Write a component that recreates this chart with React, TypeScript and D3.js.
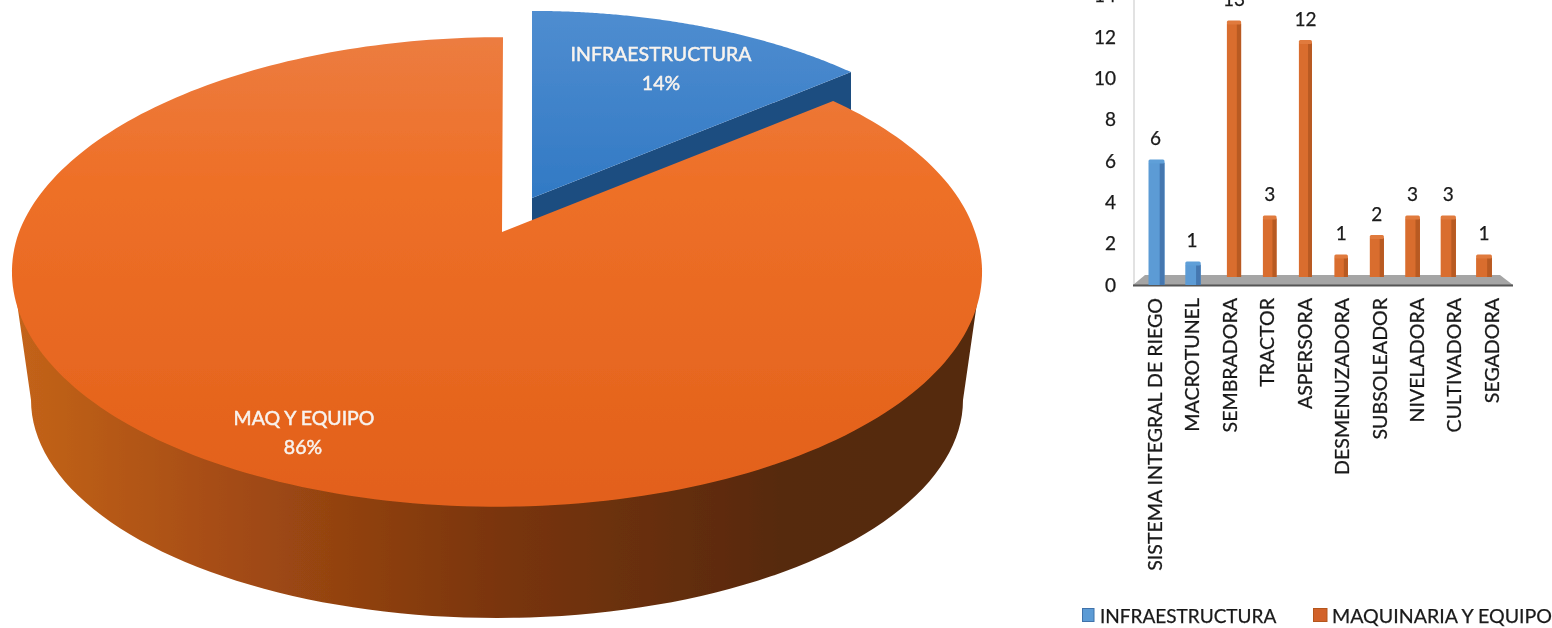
import React from "react";
import * as d3 from "d3";

const pieLabels = ["INFRAESTRUCTURA", "MAQ Y EQUIPO"];
const pieShares = [14, 86];
const categories = ["SISTEMA INTEGRAL DE RIEGO", "MACROTUNEL", "SEMBRADORA", "TRACTOR", "ASPERSORA", "DESMENUZADORA", "SUBSOLEADOR", "NIVELADORA", "CULTIVADORA", "SEGADORA"];
const infraValues = [6, 1];
const maqValues = [13, 3, 12, 1, 2, 3, 3, 1];
const yTicks = [0, 2, 4, 6, 8, 10, 12, 14];
const legendLabels = ["INFRAESTRUCTURA", "MAQUINARIA Y EQUIPO"];

const FONT = "Lato, 'Open Sans', sans-serif";
const INK = "#1a1a1a";

// perspective disc
const K = 0.17, C = 478, A = 228;
const project = (ang: number, ox: number, oy: number, s: number): [number, number] => {
  const u = Math.sin(ang), v = Math.cos(ang), w = 1 + K * v;
  return [ox + (s * C * u) / w, oy - (s * A * v) / w];
};
const wedge = (a0: number, a1: number, ox: number, oy: number, s: number) => {
  const n = 160;
  const pts: [number, number][] = [[ox, oy]];
  d3.range(n + 1).forEach((i) => pts.push(project(a0 + ((a1 - a0) * i) / n, ox, oy, s)));
  return d3.line()(pts) + "Z";
};

export default function App() {
  const arcs = d3.pie<number>().sort(null)(pieShares);
  const blue = arcs[0], orange = arcs[1];
  const blueOx = 532, blueOy = 198, blueS = 0.96;
  const orangeOx = 499, orangeOy = 232;
  const blueEnd = project(blue.endAngle, blueOx, blueOy, blueS);
  const blueStart = [blueOx, blueOy];
  const blueDepth = 40;

  // Side of the orange disc: lower rim as ellipse
  const rimCx = 497, rimCy = 400, rimRx = 466, rimRy = 218;
  const rim = d3.range(0, 181, 2).map((deg) => {
    const t = (deg * Math.PI) / 180;
    return [rimCx + rimRx * Math.cos(t), rimCy + rimRy * Math.sin(t)] as [number, number];
  });
  const sidePath = d3.line()([[982, 268], ...rim, [12, 268]]) + "Z";

  // Orange top: apex shifted toward the notch, disc itself centred at 497
  const topPts: [number, number][] = [];
  d3.range(241).forEach((i) => {
    const a = orange.startAngle + ((orange.endAngle - orange.startAngle) * i) / 240;
    const p = project(a, orangeOx, orangeOy, 1);
    const fade = Math.max(0, Math.cos(a));
    topPts.push([p[0] - 2 + 6 * fade, p[1]]);
  });
  const orangeTop = d3.line()([[502, orangeOy], ...topPts]) + "Z";

  // Bar chart scales
  const tickY = d3.scaleLinear().domain([0, 14]).range([285, -4.4]);
  const frontY = d3.scaleLinear().domain([0, 1]).range([285, 264.6]);
  const backY = d3.scaleLinear().domain([0, 1]).range([277, 257.5]);
  const frontX = d3.scaleLinear().domain([0, 1]).range([1156.5, 1193]);
  const backX = d3.scaleLinear().domain([2, 9]).range([1234, 1484]);
  const labelX = d3.scalePoint<number>().domain(d3.range(categories.length)).range([1155, 1492]);
  const widthAt = (x: number) => 13 + Math.abs(x - 1310) / 62;
  const cap = 3;

  const bar = (cx: number, w: number, base: number, top: number, cFront: string, cSide: string, cCap: string, key: string) => {
    const left = cx - w / 2, right = cx + w / 2, sw = w * 0.3;
    return (
      <g key={key}>
        <rect x={left} y={top} width={w} height={base - top} fill={cFront} />
        <rect x={right - sw} y={top} width={sw} height={base - top} fill={cSide} />
        <rect x={left} y={top - cap} width={w} height={cap + 1} rx={1.5} fill={cCap} />
      </g>
    );
  };

  const inkText = { fill: INK, stroke: INK, strokeWidth: 0.25 };

  return (
    <svg width={1552} height={628} viewBox="0 0 1552 628" style={{ position: "absolute", left: 0, top: 0, display: "block", background: "#fff" }} fontFamily={FONT}>
      <defs>
        <linearGradient id="orangeTop" x1="0" y1="37" x2="0" y2="507" gradientUnits="userSpaceOnUse">
          <stop offset="0" stopColor="#ec7c40" />
          <stop offset="0.3" stopColor="#ee7028" />
          <stop offset="1" stopColor="#e2601a" />
        </linearGradient>
        <linearGradient id="orangeSide" x1="12" y1="0" x2="982" y2="0" gradientUnits="userSpaceOnUse">
          <stop offset="0" stopColor="#c4641a" />
          <stop offset="0.2" stopColor="#a84e14" />
          <stop offset="0.5" stopColor="#7a350d" />
          <stop offset="0.8" stopColor="#56290c" />
          <stop offset="1" stopColor="#54290d" />
        </linearGradient>
        <linearGradient id="blueTop" x1="0" y1="12" x2="0" y2="200" gradientUnits="userSpaceOnUse">
          <stop offset="0" stopColor="#4f8dd0" />
          <stop offset="1" stopColor="#3179c4" />
        </linearGradient>
        <filter id="soft" x="-2%" y="-2%" width="104%" height="104%">
          <feGaussianBlur stdDeviation="0.55" />
        </filter>
      </defs>
      <g filter="url(#soft)">
        {/* Pie */}
        <polygon
          points={[
            [blueStart[0], blueStart[1]],
            [blueEnd[0], blueEnd[1]],
            [blueEnd[0], blueEnd[1] + blueDepth],
            [blueStart[0], blueStart[1] + blueDepth],
          ].join(" ")}
          fill="#1f4d80"
        />
        <path d={wedge(blue.startAngle, blue.endAngle, blueOx, blueOy, blueS)} fill="url(#blueTop)" />
        <path d={sidePath} fill="url(#orangeSide)" />
        <path d={orangeTop} fill="url(#orangeTop)" />
        <g fill="#f8f3ee" stroke="#f8f3ee" strokeWidth={0.5} textAnchor="middle" fontSize={19.5}>
          <text x={661} y={61}>{pieLabels[0]}</text>
          <text x={661} y={90}>{pieShares[0]}%</text>
          <text x={304} y={425}>{pieLabels[1]}</text>
          <text x={303} y={454}>{pieShares[1]}%</text>
        </g>

        {/* Bar chart */}
        <line x1={1134} x2={1134} y1={0} y2={285} stroke="#d9d9d9" strokeWidth={1.5} />
        <polygon points="1145,275 1500,275 1513,285 1133,285" fill="#a5a5a5" />
        <line x1={1133} x2={1513} y1={285.5} y2={285.5} stroke="#555" strokeWidth={2} />
        {yTicks.map((t) => (
          <text key={t} x={1116} y={tickY(t)} dy="0.35em" textAnchor="end" fontSize={19} {...inkText}>{t}</text>
        ))}
        {maqValues.map((v, i) => {
          const idx = i + infraValues.length;
          const cx = backX(idx), top = backY(v);
          return (
            <g key={categories[idx]}>
              {bar(cx, widthAt(cx), backY(0), top, "#d96d2e", "#b85a22", "#e07a3c", "b" + i)}
              <text x={cx} y={top - cap - 21} dy="0.35em" textAnchor="middle" fontSize={19} {...inkText}>{v}</text>
            </g>
          );
        })}
        {infraValues.map((v, i) => {
          const cx = frontX(i), top = frontY(v);
          return (
            <g key={categories[i]}>
              {bar(cx, widthAt(cx) + 0.5, frontY(0), top, "#5b9bd5", "#4477b0", "#5f9fd8", "f" + i)}
              <text x={cx - 1} y={top - cap - 21} dy="0.35em" textAnchor="middle" fontSize={19} {...inkText}>{v}</text>
            </g>
          );
        })}
        {categories.map((c, i) => (
          <text key={c} transform={`translate(${labelX(i)},298) rotate(-90)`} dy="0.35em" textAnchor="end" fontSize={19.6} {...inkText}>{c}</text>
        ))}

        {/* Legend */}
        <rect x={1082.5} y={608.5} width={11.5} height={13} fill="#5b9bd5" stroke="#3f72aa" strokeWidth={1} />
        <text x={1100} y={622.5} fontSize={19} {...inkText}>{legendLabels[0]}</text>
        <rect x={1313.5} y={608.5} width={13.5} height={13} fill="#d2622a" stroke="#b4561f" strokeWidth={1} />
        <text x={1332} y={622.5} fontSize={19.6} {...inkText}>{legendLabels[1]}</text>
      </g>
    </svg>
  );
}
